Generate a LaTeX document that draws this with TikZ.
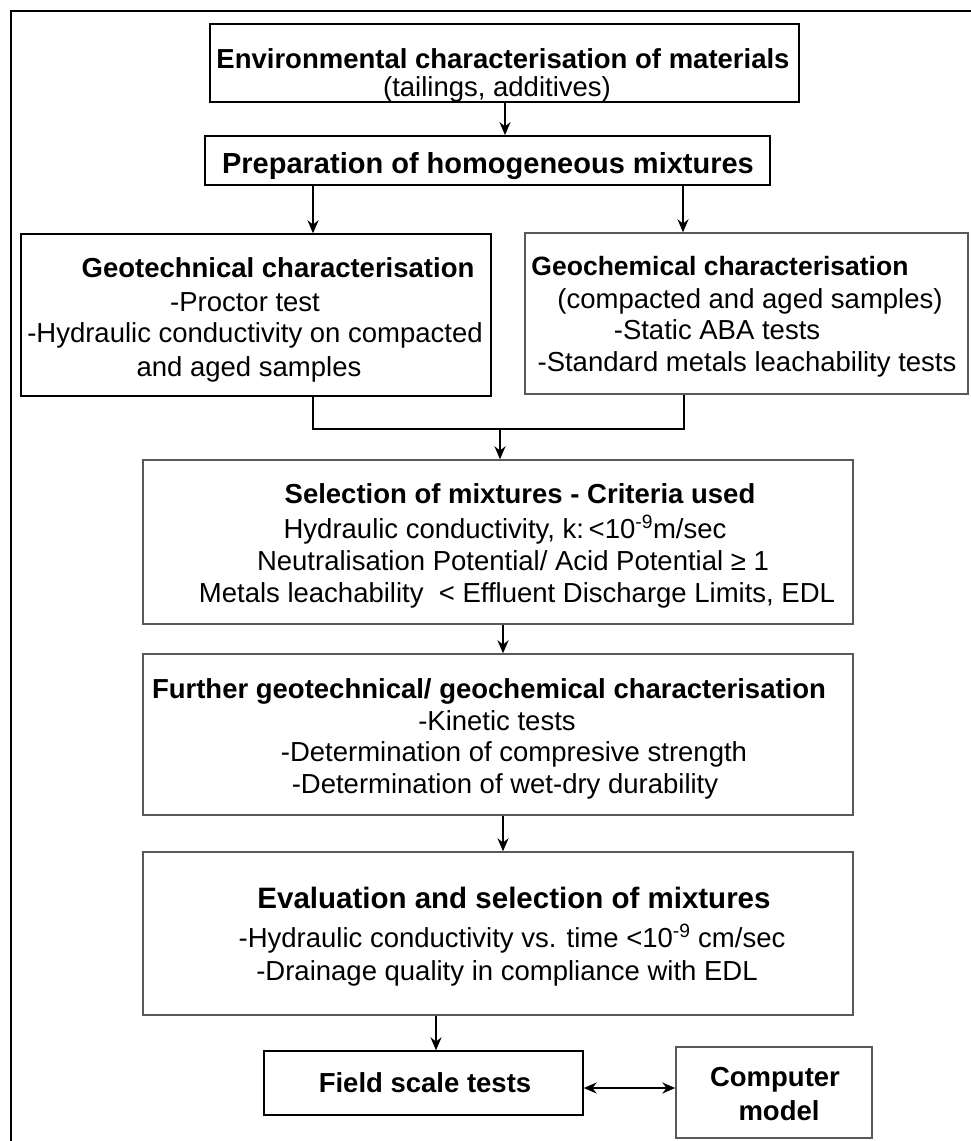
\documentclass[tikz,border=0pt]{standalone}
\usepackage{fontspec}
\setmainfont{Liberation Sans}
\usetikzlibrary{arrows.meta}
\begin{document}
\begin{tikzpicture}[x=1pt,y=-1pt,
  box/.style={draw=black!65, line width=1.4pt, inner sep=0pt},
  boxk/.style={draw=black, line width=1.8pt, inner sep=0pt},
  txt/.style={inner sep=0pt, anchor=base, font=\fontsize{27.5}{32}\selectfont},
  ttl/.style={txt, font=\fontsize{27.5}{32}\selectfont\bfseries},
  arr/.style={draw=black, line width=1.8pt, -{Stealth[length=13pt,width=11pt]}},
  lnk/.style={draw=black, line width=1.8pt}]
\useasboundingbox (0,0) rectangle (971,1141);
\draw[line width=2.8pt] (11,1141) -- (11,11) -- (971,11);
% boxes
\node[boxk, minimum width=589, minimum height=78] (b1) at (504.5,63) {};
\node[boxk, minimum width=565, minimum height=49] (b2) at (487.5,160.5) {};
\node[box, draw=black, minimum width=470, minimum height=162] (b3) at (256,315) {};
\node[box, minimum width=443, minimum height=161] (b4) at (746.5,313.5) {};
\node[box, minimum width=710, minimum height=164] (b5) at (498,542) {};
\node[box, minimum width=710, minimum height=161] (b6) at (498,734.5) {};
\node[box, minimum width=710, minimum height=163] (b7) at (498,933.5) {};
\node[box, draw=black, minimum width=319, minimum height=64] (b8) at (423.5,1083) {};
\node[box, minimum width=196, minimum height=91] (b9) at (774,1092.5) {};
% texts
\node[ttl] (t11) at (503,68) {Environmental characterisation of materials};
\node[txt] (t12) at (497,96) {(tailings, additives)};
\node[ttl, font=\fontsize{29}{32}\selectfont\bfseries] (t21) at (488,173) {Preparation of homogeneous mixtures};
\node[ttl] (t31) at (278,277) {Geotechnical characterisation};
\node[txt] (t32) at (245,311) {-Proctor test};
\node[txt] (t33) at (255,342) {-Hydraulic conductivity on compacted};
\node[txt] (t34) at (249,376) {and aged samples};
\node[ttl, font=\fontsize{26.5}{32}\selectfont\bfseries] (t41) at (720,275) {Geochemical characterisation};
\node[txt] (t42) at (750,308) {(compacted and aged samples)};
\node[txt] (t43) at (717,339) {-Static ABA tests};
\node[txt] (t44) at (747,371) {-Standard metals leachability tests};
\node[ttl] (t51) at (520,503) {Selection of mixtures - Criteria used};
\node[txt] (t52) at (505,538) {Hydraulic conductivity, k:\,<10\textsuperscript{-9}m/sec};
\node[txt] (t53) at (513,570) {Neutralisation Potential/ Acid Potential ≥ 1};
\node[txt] (t54) at (517,602) {Metals leachability\ \ < Effluent Discharge Limits, EDL};
\node[ttl] (t61) at (489,698) {Further geotechnical/ geochemical characterisation};
\node[txt] (t62) at (497,730) {-Kinetic tests};
\node[txt] (t63) at (514,761) {-Determination of compresive strength};
\node[txt] (t64) at (505,793) {-Determination of wet-dry durability};
\node[ttl, font=\fontsize{29.5}{34}\selectfont\bfseries] (t71) at (514,908) {Evaluation and selection of mixtures};
\node[txt] (t72) at (512,947) {-Hydraulic conductivity vs. time <10\textsuperscript{-9} cm/sec};
\node[txt] (t73) at (507,980) {-Drainage quality in compliance with EDL};
\node[ttl] (t81) at (425,1092) {Field scale tests};
\node[ttl] (t91) at (775,1086) {Computer};
\node[ttl] (t92) at (779,1120) {model};
% connectors
\draw[arr] (505,0 |- b1.south) -- (505,0 |- b2.north);
\draw[arr] (313,0 |- b2.south) -- (313,0 |- b3.north);
\draw[arr] (683,0 |- b2.south) -- (683,0 |- b4.north);
\coordinate (m1) at (313,429);
\coordinate (m2) at (684,429);
\coordinate (m0) at (500,429);
\draw[lnk] (313,0 |- b3.south) -- (m1) -- (m2) -- (684,0 |- b4.south);
\draw[arr] (m0) -- (m0 |- b5.north);
\draw[arr] (503,0 |- b5.south) -- (503,0 |- b6.north);
\draw[arr] (503,0 |- b6.south) -- (503,0 |- b7.north);
\draw[arr] (436,0 |- b7.south) -- (436,0 |- b8.north);
\draw[draw=black, line width=1.8pt, {Stealth[length=13pt,width=11pt]}-{Stealth[length=13pt,width=11pt]}] (b8.east |- 0,1088) -- (b9.west |- 0,1088);
\end{tikzpicture}
\end{document}
